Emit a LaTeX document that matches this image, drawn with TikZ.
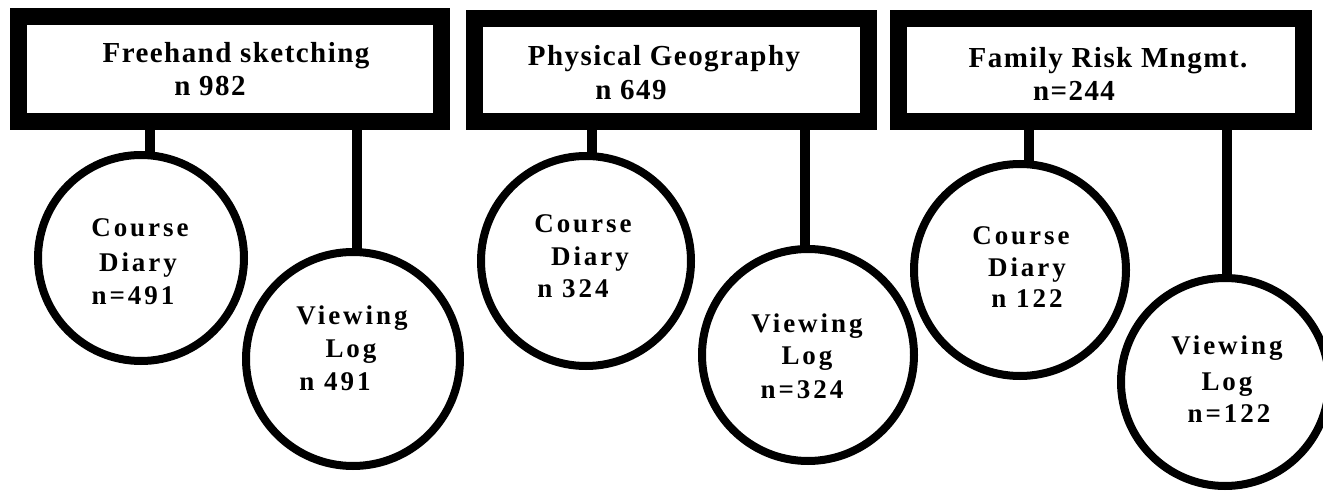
\documentclass[tikz,border=0pt]{standalone}
\usepackage{fontspec}
\newfontfamily\headfont[LetterSpace=5]{Liberation Serif}
\newfontfamily\ringfont[LetterSpace=11]{Liberation Serif}
\usetikzlibrary{backgrounds}
\begin{document}
\begin{tikzpicture}[x=1pt,y=-1pt,
  coursebox/.style={draw=black,line width=17pt,fill=white,rectangle,inner sep=0pt},
  ring/.style={draw=black,line width=8pt,fill=white,circle,inner sep=0pt},
  link/.style={draw=black,line width=10pt},
  headtxt/.style={font=\headfont\bfseries\fontsize{29}{33}\selectfont,anchor=base,inner sep=0pt},
  ringtxt/.style={font=\ringfont\bfseries\fontsize{27}{31}\selectfont,anchor=base,inner sep=0pt}]
\useasboundingbox (0,0) rectangle (1323,494);

% course boxes
\node[coursebox,minimum width=423pt,minimum height=105pt] (B1) at (230,69) {};
\node[coursebox,minimum width=394pt,minimum height=103pt] (B2) at (671.5,70) {};
\node[coursebox,minimum width=405pt,minimum height=103pt] (B3) at (1101,70) {};

% instrument circles
\node[ring,minimum size=206pt] (C1) at (141,258) {};
\node[ring,minimum size=214pt] (C2) at (353,359) {};
\node[ring,minimum size=210pt] (C3) at (586,261) {};
\node[ring,minimum size=212pt] (C4) at (808,355) {};
\node[ring,minimum size=212pt] (C5) at (1020,270) {};
\node[ring,minimum size=208pt] (C6) at (1225,382) {};

% box titles
\node[headtxt] (T1a) at (236,63) {Freehand sketching};
\node[headtxt] (T1b) at (210,96) {n 982};
\node[headtxt] (T2a) at (664,66) {Physical Geography};
\node[headtxt] (T2b) at (631,100) {n 649};
\node[headtxt] (T3a) at (1108,68) {Family Risk Mngmt.};
\node[headtxt] (T3b) at (1074,101) {n=244};

% circle labels
\node[ringtxt] (L1a) at (140,237) {Course};
\node[ringtxt] (L1b) at (138,272) {Diary};
\node[ringtxt] (L1c) at (133,305) {n=491};
\node[ringtxt] (L2a) at (352,325) {Viewing};
\node[ringtxt] (L2b) at (351,358) {Log};
\node[ringtxt] (L2c) at (335,391) {n 491};
\node[ringtxt] (L3a) at (583,233) {Course};
\node[ringtxt] (L3b) at (590,266) {Diary};
\node[ringtxt] (L3c) at (573,298) {n 324};
\node[ringtxt] (L4a) at (807,333) {Viewing};
\node[ringtxt] (L4b) at (807,365) {Log};
\node[ringtxt] (L4c) at (802,398) {n=324};
\node[ringtxt] (L5a) at (1021,245) {Course};
\node[ringtxt] (L5b) at (1027,277) {Diary};
\node[ringtxt] (L5c) at (1027,308) {n 122};
\node[ringtxt] (L6a) at (1227,355) {Viewing};
\node[ringtxt] (L6b) at (1227,390) {Log};
\node[ringtxt] (L6c) at (1229,422) {n=122};

% stems from each box down to its circles
\coordinate (k1) at (150,0);
\coordinate (k2) at (357,0);
\coordinate (k3) at (592,0);
\coordinate (k4) at (805,0);
\coordinate (k5) at (1029,0);
\coordinate (k6) at (1227,0);
\begin{scope}[on background layer]
  \fill[white] (0,0) rectangle (1323,494);
  \draw[link] (B1.south -| k1) -- (k1 |- C1.center);
  \draw[link] (B1.south -| k2) -- (k2 |- C2.center);
  \draw[link] (B2.south -| k3) -- (k3 |- C3.center);
  \draw[link] (B2.south -| k4) -- (k4 |- C4.center);
  \draw[link] (B3.south -| k5) -- (k5 |- C5.center);
  \draw[link] (B3.south -| k6) -- (k6 |- C6.center);
\end{scope}
\end{tikzpicture}
\end{document}
